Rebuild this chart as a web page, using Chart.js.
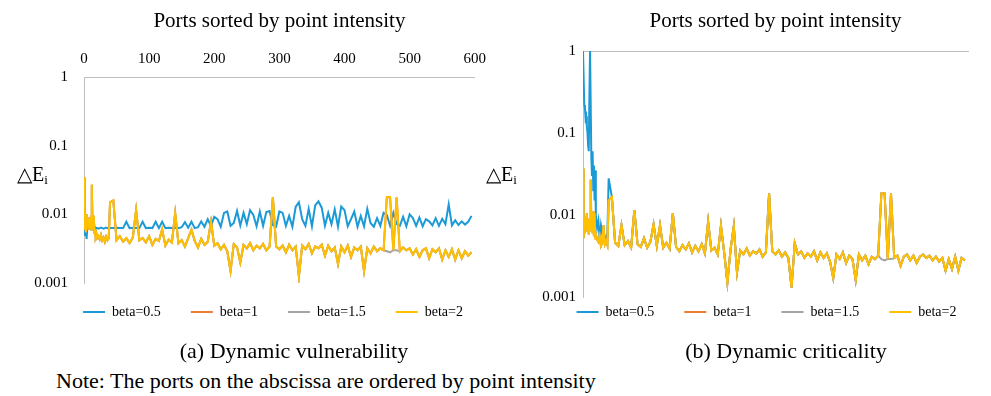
<!DOCTYPE html>
<html>
<head>
<meta charset="utf-8">
<script src="https://cdn.jsdelivr.net/npm/chart.js@4.4.1/dist/chart.umd.min.js"></script>
<style>
body{margin:0;width:991px;height:396px;background:#fff;position:relative;overflow:hidden;font-family:"Liberation Serif","Times New Roman",serif;color:#000}
canvas{position:absolute;top:0}
#vul{left:0}
#crit{left:495px}
.lab{position:absolute;font-size:20px;line-height:22px;white-space:nowrap}
.lab sub{font-size:13px;vertical-align:-3px}
.cap{position:absolute;font-size:22px;line-height:24px;white-space:nowrap;transform:translateX(-50%)}
</style>
</head>
<body>
<canvas id="vul" width="495" height="355"></canvas>
<canvas id="crit" width="496" height="355"></canvas>
<div class="lab" style="left:17px;top:163px">△E<sub>i</sub></div>
<div class="lab" style="left:486px;top:163px">△E<sub>i</sub></div>
<div class="cap" style="left:294px;top:339px">(a) Dynamic vulnerability</div>
<div class="cap" style="left:786px;top:339px">(b) Dynamic criticality</div>
<div class="cap" style="left:56px;top:369px;transform:none">Note: The ports on the abscissa are ordered by point intensity</div>
<script>
// ports on the abscissa (dense at the start, every 5 after 45)
const ports = [
	0,1,2,3,4,5,6,7,8,9,10,11,12,13,14,15,16,17,18,19,20,
	22,24,26,28,30,32,34,36,38,40,
	45,50,55,60,65,70,75,80,85,90,
	95,100,105,110,115,120,125,130,135,140,
	145,150,155,160,165,170,175,180,185,190,
	195,200,205,210,215,220,225,230,235,240,
	245,250,255,260,265,270,275,280,285,290,
	295,300,305,310,315,320,325,330,335,340,
	345,350,355,360,365,370,375,380,385,390,
	395,400,405,410,415,420,425,430,435,440,
	445,450,455,460,465,470,475,480,485,490,
	495,500,505,510,515,520,525,530,535,540,
	545,550,555,560,565,570,575,580,585,590,
	595]
const yTicks = [0.001, 0.01, 0.1, 1]
const xTicks = [0, 100, 200, 300, 400, 500, 600]

// (a) dynamic vulnerability
const vulBeta05 = [
	0.005,0.0056,0.0062,0.0059,0.0044,0.0062,0.0063,0.0062,0.0064,0.0063,0.0062,0.0063,0.0064,0.0063,0.0062,0.0063,0.0063,0.0062,0.0064,0.0063,0.0063,
	0.0062,0.0063,0.0064,0.0063,0.0062,0.0063,0.0064,0.0063,0.0062,0.0063,
	0.0063,0.0064,0.0063,0.0063,0.0078,0.0063,0.0064,0.0063,0.0063,0.0078,
	0.0063,0.0064,0.0063,0.0078,0.0063,0.0078,0.0063,0.0064,0.0063,0.0064,
	0.0063,0.0065,0.0077,0.0064,0.0078,0.0063,0.0065,0.0079,0.0066,0.0085,
	0.0067,0.0092,0.0085,0.0066,0.0105,0.011,0.0068,0.0075,0.0112,0.0069,
	0.0105,0.0072,0.0115,0.0098,0.0067,0.011,0.0068,0.0108,0.0112,0.007,
	0.0066,0.011,0.0105,0.0068,0.0095,0.0066,0.0128,0.015,0.0085,0.0068,
	0.012,0.0067,0.0135,0.0155,0.0125,0.0068,0.0105,0.0072,0.0118,0.0066,
	0.013,0.0115,0.0067,0.0085,0.011,0.0066,0.0095,0.0067,0.012,0.0075,
	0.0066,0.0088,0.0068,0.0105,0.0098,0.0068,0.0105,0.0072,0.0068,0.0092,
	0.0067,0.01,0.0088,0.0068,0.009,0.0067,0.0085,0.0079,0.0069,0.0088,
	0.0068,0.0086,0.0072,0.014,0.0069,0.0082,0.007,0.0079,0.0071,0.0078,
	0.0095]
const vulBeta2 = [
	0.035,0.006,0.009,0.0055,0.01,0.007,0.0085,0.006,0.009,0.0065,0.0075,0.006,0.027,0.007,0.0065,0.0095,0.0055,0.005,0.0048,0.0052,0.0045,
	0.0048,0.0043,0.005,0.0042,0.0046,0.004,0.0047,0.0042,0.0045,0.015,
	0.016,0.0042,0.0048,0.004,0.0045,0.0038,0.0046,0.0115,0.0042,0.0045,
	0.0039,0.0048,0.0036,0.0044,0.0041,0.006,0.0035,0.0043,0.0039,0.0104,
	0.0038,0.0042,0.0034,0.0045,0.006,0.0041,0.0033,0.0044,0.0036,0.004,
	0.0078,0.0035,0.0038,0.0031,0.0036,0.0029,0.0015,0.0037,0.0033,0.002,
	0.0036,0.0032,0.0038,0.003,0.0035,0.0032,0.0037,0.003,0.0034,0.0177,
	0.0034,0.0031,0.0035,0.0028,0.0036,0.003,0.0034,0.00125,0.0035,0.0031,
	0.0037,0.0027,0.0034,0.0032,0.0036,0.0025,0.0035,0.0029,0.0033,0.0019,
	0.0034,0.0028,0.0035,0.0024,0.0033,0.003,0.0034,0.0015,0.0032,0.0027,
	0.0034,0.0029,0.0032,0.003,0.0177,0.0177,0.003,0.0177,0.0029,0.0033,
	0.003,0.0032,0.0026,0.0031,0.0024,0.003,0.0032,0.0023,0.0031,0.0028,
	0.0032,0.0022,0.003,0.0024,0.0031,0.0022,0.003,0.0023,0.0029,0.0025,
	0.0028]

// (b) dynamic criticality
const critBeta05Head = [
	1,1,0.22,0.2,0.15,0.16,0.12,0.1,0.07,0.06,0.3,1,1,0.05,0.03,0.06,0.02,0.04,0.015,0.035,0.01,
	0.007,0.0085,0.005,0.0075,0.006,0.005,0.0055,0.005,0.006,0.028]
const critBeta2 = [
	0.037,0.0052,0.0085,0.006,0.0095,0.007,0.0105,0.0062,0.009,0.0058,0.0075,0.0065,0.027,0.0068,0.0085,0.006,0.011,0.0055,0.0105,0.0052,0.0058,
	0.005,0.0047,0.0055,0.0042,0.0046,0.0075,0.0044,0.0048,0.0043,0.015,
	0.0165,0.0046,0.0042,0.0075,0.0043,0.0048,0.004,0.0115,0.0044,0.0041,
	0.0052,0.004,0.0047,0.0077,0.0042,0.0075,0.004,0.0046,0.0039,0.0105,
	0.0041,0.0036,0.0043,0.0038,0.0045,0.0035,0.0042,0.0036,0.0044,0.0034,
	0.0083,0.0037,0.004,0.0033,0.0074,0.0035,0.0015,0.0038,0.0073,0.002,
	0.0037,0.0033,0.0039,0.0032,0.0036,0.0034,0.0038,0.0031,0.0035,0.0183,
	0.0036,0.0033,0.0037,0.0031,0.0035,0.003,0.0013,0.0045,0.0033,0.0036,
	0.003,0.0034,0.0031,0.0036,0.0028,0.0035,0.003,0.0034,0.0027,0.0017,
	0.0033,0.0029,0.0035,0.0026,0.0032,0.0029,0.0016,0.0033,0.0028,0.0032,
	0.0025,0.0031,0.0029,0.0032,0.0183,0.0183,0.0029,0.0183,0.003,0.0032,
	0.0024,0.0031,0.0033,0.0028,0.0032,0.0026,0.0031,0.0033,0.003,0.0032,
	0.0028,0.0031,0.0027,0.003,0.0021,0.0029,0.0022,0.0031,0.0021,0.003,
	0.0028]

// beta=1 and beta=1.5 lie under beta=2; beta=1.5 only shows at the spikes near port 470
const spikePorts = [465, 470, 480]
const vulBeta15AtSpikes = [0.0029, 0.0028, 0.003]
const critBeta15AtSpikes = [0.0029, 0.0028, 0.0029]

const font = '"Liberation Serif", "Times New Roman", serif'
const colors = ['#1C9AD6', '#ED7D31', '#A5A5A5', '#FFC000']
const names = ['beta=0.5', 'beta=1', 'beta=1.5', 'beta=2']

let withSpikes = (base, vals) => base.map((v, i) => {
	let k = spikePorts.indexOf(ports[i])
	return k < 0 ? v : vals[k]
})
let pts = arr => ports.map((p, i) => ({x: p, y: arr[i]}))

// moves the legend box after layout so it sits where the reference has it
let legendShift = {
	id: 'legendShift',
	afterLayout: (chart, args, opts) => {
		chart.legend.top += opts.dy
		chart.legend.bottom += opts.dy
		chart.legend.left += opts.dx
		chart.legend.right += opts.dx
	}
}

let makeChart = (id, series, cfg) => {
	new Chart(document.getElementById(id), {
		type: 'line',
		data: {
			datasets: series.map((s, i) => ({
				label: names[i],
				data: pts(s),
				borderColor: colors[i],
				backgroundColor: colors[i],
				borderWidth: 2,
				pointRadius: 0,
				tension: 0,
				order: 3 - i
			}))
		},
		plugins: [legendShift],
		options: {
			responsive: false,
			animation: false,
			layout: {padding: {left: 0, right: cfg.right, top: 0, bottom: cfg.bottom}},
			plugins: {
				tooltip: {enabled: false},
				legendShift: {dy: cfg.dy, dx: cfg.dx},
				legend: {
					position: 'bottom',
					labels: {
						font: {family: font, size: 14},
						color: '#000',
						boxWidth: 22,
						boxHeight: 2,
						padding: 30,
						sort: (a, b) => a.datasetIndex - b.datasetIndex,
						generateLabels: chart => Chart.defaults.plugins.legend.labels.generateLabels(chart)
							.map(l => Object.assign(l, {lineWidth: 0}))
					}
				}
			},
			scales: {
				x: {
					type: 'linear',
					position: 'top',
					min: 0,
					max: 600,
					afterBuildTicks: s => { s.ticks = xTicks.map(v => ({value: v})) },
					ticks: {padding: cfg.xPad, maxRotation: 0, font: {family: font, size: 15}, color: '#000'},
					grid: {color: 'rgba(0,0,0,0)', drawTicks: false},
					border: {color: '#BFBFBF', width: 1},
					title: {display: true, text: 'Ports sorted by point intensity', color: '#000',
						font: {family: font, size: 21}, padding: {top: cfg.titleTop, bottom: 0}},
					afterFit: s => { s.height = cfg.top }
				},
				y: {
					type: 'logarithmic',
					min: 0.001,
					max: 1,
					afterBuildTicks: s => { s.ticks = yTicks.map(v => ({value: v})) },
					ticks: {padding: cfg.yPad, callback: v => String(v), font: {family: font, size: 15}, color: '#000'},
					grid: {color: 'rgba(0,0,0,0)', drawTicks: false},
					border: {color: '#BFBFBF', width: 1},
					afterFit: s => { s.width = cfg.left }
				}
			}
		}
	})
}

makeChart('vul', [vulBeta05, vulBeta2, withSpikes(vulBeta2, vulBeta15AtSpikes), vulBeta2],
	{left: 84, right: 19, top: 77, bottom: 18, dy: -8, dx: 35, xPad: 9, yPad: 16, titleTop: 9})

let critBeta05 = critBeta05Head.concat(critBeta2.slice(critBeta05Head.length))
makeChart('crit', [critBeta05, critBeta2, withSpikes(critBeta2, critBeta15AtSpikes), critBeta2],
	{left: 88, right: 23, top: 51, bottom: 4, dy: -22, dx: 35, xPad: -27, yPad: 7, titleTop: 9})
</script>
</body>
</html>
